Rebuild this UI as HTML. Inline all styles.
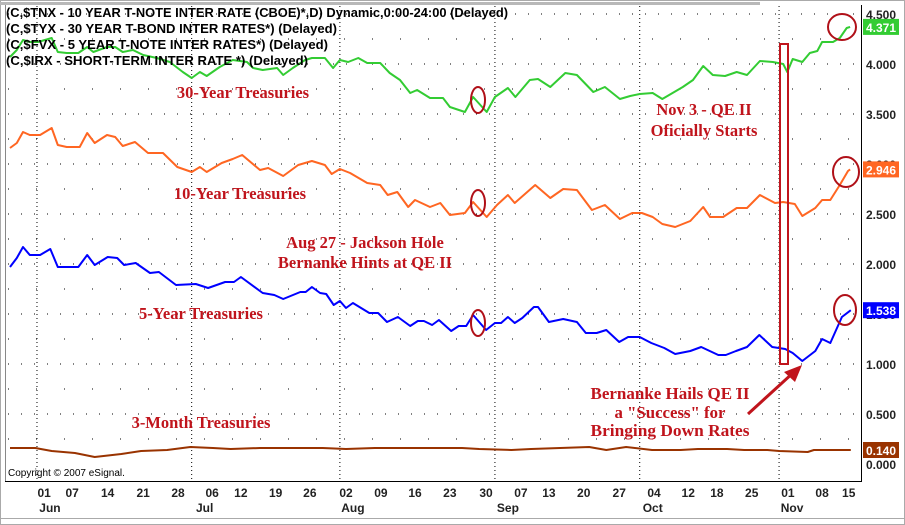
<!DOCTYPE html>
<html><head><meta charset="utf-8">
<style>
html,body{margin:0;padding:0;background:#fff;}
svg{display:block;font-family:"Liberation Sans",sans-serif;}
.ann{font-family:"Liberation Serif",serif;font-weight:bold;font-size:16.5px;fill:#c0141c;text-anchor:middle;}
.leg{font-size:12.8px;font-weight:bold;fill:#000;}
.ytk{font-size:12px;font-weight:bold;fill:#222;}
.xtk{font-size:12px;font-weight:bold;fill:#222;text-anchor:middle;}
</style></head>
<body>
<svg id="chart" width="905" height="525" viewBox="0 0 905 525">
<rect x="0" y="0" width="905" height="525" fill="#fff"/>
<rect x="0.5" y="0.5" width="904" height="524" fill="none" stroke="#aaa"/>
<rect x="0" y="2" width="760" height="3" fill="#b8b8b8"/>
<line x1="5.5" y1="5" x2="5.5" y2="481" stroke="#888"/>
<line x1="861.5" y1="5" x2="861.5" y2="481" stroke="#000"/>
<line x1="5" y1="481.5" x2="862" y2="481.5" stroke="#000"/>
<line x1="0" y1="518.5" x2="905" y2="518.5" stroke="#aaa"/>
<g id="grid"></g>
<g id="axes"></g>
<g id="series"></g>

<g>
<text class="leg" x="6" y="17" textLength="502" lengthAdjust="spacingAndGlyphs">(C,$TNX - 10 YEAR T-NOTE INTER RATE (CBOE)*,D) Dynamic,0:00-24:00 (Delayed)</text>
<text class="leg" x="6" y="33" textLength="331" lengthAdjust="spacingAndGlyphs">(C,$TYX - 30 YEAR T-BOND INTER RATES*)  (Delayed)</text>
<text class="leg" x="6" y="49" textLength="322" lengthAdjust="spacingAndGlyphs">(C,$FVX - 5 YEAR T-NOTE INTER RATES*)  (Delayed)</text>
<text class="leg" x="6" y="65" textLength="302" lengthAdjust="spacingAndGlyphs">(C,$IRX - SHORT-TERM INTER RATE *)  (Delayed)</text>
</g>

<g>
<text class="ann" x="243" y="98">30-Year Treasuries</text>
<text class="ann" x="240" y="199">10-Year Treasuries</text>
<text class="ann" x="365" y="248">Aug 27 - Jackson Hole</text>
<text class="ann" x="365" y="268">Bernanke Hints at QE II</text>
<text class="ann" x="201" y="319">5-Year Treasuries</text>
<text class="ann" x="201" y="428">3-Month Treasuries</text>
<text class="ann" x="704" y="115">Nov 3 - QE II</text>
<text class="ann" x="704" y="136">Oficially Starts</text>
<text class="ann" x="670" y="399" font-size="18" textLength="159" lengthAdjust="spacingAndGlyphs">Bernanke Hails QE II</text>
<text class="ann" x="670" y="418" font-size="18" textLength="111" lengthAdjust="spacingAndGlyphs">a "Success" for</text>
<text class="ann" x="670" y="436" font-size="18" textLength="159" lengthAdjust="spacingAndGlyphs">Bringing Down Rates</text>
<rect x="780" y="44" width="8" height="320" fill="none" stroke="#c0141c" stroke-width="2"/>
<line x1="748" y1="414" x2="794" y2="372" stroke="#c0141c" stroke-width="3"/>
<polygon points="802,365 784,372 795,382" fill="#c0141c"/>
<g fill="none" stroke="#b01018" stroke-width="2">
<ellipse cx="478" cy="100" rx="7" ry="13"/>
<ellipse cx="478" cy="203" rx="7" ry="13"/>
<ellipse cx="478" cy="323" rx="7" ry="13"/>
<ellipse cx="842" cy="27" rx="14" ry="13"/>
<ellipse cx="846" cy="172" rx="13" ry="15"/>
<ellipse cx="845" cy="310" rx="11" ry="15"/>
</g>
</g>
<text x="8" y="476" font-size="10" fill="#000">Copyright © 2007 eSignal.</text>
</svg>
<script>
const yTicks = [4.5,4.0,3.5,3.0,2.5,2.0,1.5,1.0,0.5,0.0];
const xTickDays = [5,9.1,14.3,19.5,24.6,29.6,33.8,38.9,43.9,49.2,54.3,59.3,64.4,69.7,74.8,78.9,84,89.2,94.3,99.3,103.5,108.6,113.9,118.9,122.8];
const xTickLabels = ["01","07","14","21","28","06","12","19","26","02","09","16","23","30","07","13","20","27","04","12","18","25","01","08","15"];
const monthDays = [3.95,26.6,48.3,71,92.2,112.6];
const monthLabels = ["Jun","Jul","Aug","Sep","Oct","Nov"];

const d30 = [0,1,1.9,2.9,4.1,6.1,7,8.3,10,11.3,12.2,14.2,15.4,16.5,18,19.5,21.5,23.4,25.3,26.6,27.8,28.8,30.7,32.6,34.7,35.6,37,39.1,40,41.4,43.2,44.2,46.1,47.3,48.3,49.5,51,52.3,54.2,55.6,57.1,58.6,59.6,61.5,63.4,64.4,66.6,67.8,69.8,71,72.9,74,76.1,77.3,79.1,81.3,83,85.4,87.1,89.3,90.8,92.2,94.1,95.5,98.5,100,101.5,102.9,104.7,106.4,107.9,109.8,111.7,113.2,113.8,114.6,116,117.1,118.2,118.9,120.5,121.5,122.5,123];
const v30 = [4.07,4.14,4.24,4.22,4.22,4.26,4.12,4.11,4.11,4.17,4.12,4.17,4.17,4.12,4.14,4.09,4.06,4.02,3.92,3.86,3.92,3.88,3.97,4.04,4.02,3.96,3.94,3.96,3.89,3.96,4.04,4.06,4.06,3.96,4.04,4.02,4.06,4.01,4.01,3.91,3.84,3.71,3.74,3.66,3.66,3.57,3.52,3.67,3.52,3.67,3.76,3.67,3.84,3.85,3.77,3.91,3.89,3.72,3.77,3.65,3.68,3.70,3.71,3.65,3.77,3.84,3.98,3.89,3.88,3.92,3.89,4.03,4.02,4.00,3.92,4.05,4.02,4.11,4.13,4.22,4.22,4.26,4.36,4.371];

const d10 = [0,1,1.9,2.9,4.4,6.1,7,8.3,10.2,11.3,12.4,14.2,15.4,16.5,18.3,20.2,22.4,24.5,26.6,27.8,28.8,31,32.6,34,36.6,37.8,40,42.2,44.2,46.1,47.1,48.3,49.8,52.3,54.2,55.3,56.7,58.3,59.3,61.5,63,64.4,66.6,67.8,69.8,71.3,72.9,73.9,76.9,79.1,81,83,85.2,87.1,89.3,91.1,92.5,94.1,95.5,97.4,99.6,101.5,102.5,104.4,106.4,107.9,109.8,112,113.2,114.9,116,117.9,118.9,120.1,121.5,122.7,123];
const v10 = [3.16,3.21,3.32,3.29,3.29,3.36,3.19,3.17,3.17,3.31,3.21,3.29,3.27,3.18,3.22,3.11,3.11,2.97,2.92,2.97,2.92,3.01,3.05,3.09,2.94,2.96,2.88,2.99,3.03,2.99,2.90,2.95,2.91,2.81,2.79,2.69,2.72,2.57,2.64,2.57,2.61,2.49,2.51,2.62,2.47,2.59,2.69,2.61,2.79,2.66,2.75,2.74,2.54,2.59,2.45,2.51,2.51,2.47,2.40,2.37,2.43,2.57,2.47,2.47,2.56,2.56,2.69,2.61,2.62,2.60,2.48,2.56,2.64,2.64,2.79,2.93,2.946];

const d5 = [0,1,1.9,2.9,4.4,5.9,7,10,11.3,12.4,14.3,15.7,16.7,18.4,20.5,21.8,24.3,27.2,29,31.5,32.8,33.8,37,38.7,40,42.5,43.3,44.2,45.4,46.3,47.4,48.3,49.2,50.2,52.6,53.9,55.2,56.8,58.6,59.7,60.6,61.8,62.8,64.6,65.7,66.8,67.8,69.7,71,71.9,72.9,73.9,75,76.7,77.3,78.9,81,83,84.3,85.9,87.3,89.2,90.5,92.2,93.9,95.8,97.4,99.6,101.2,103.7,104.8,106.3,107.9,109.7,111.6,113.5,114.6,116,117.9,118.9,120.1,121.8,123.1];
const v5 = [1.97,2.06,2.17,2.09,2.09,2.15,1.97,1.97,2.09,1.99,2.07,2.06,1.99,2.01,1.91,1.92,1.79,1.80,1.76,1.82,1.82,1.87,1.71,1.69,1.65,1.72,1.72,1.77,1.71,1.70,1.59,1.63,1.56,1.61,1.51,1.51,1.42,1.47,1.38,1.43,1.43,1.39,1.44,1.33,1.38,1.38,1.49,1.34,1.41,1.41,1.47,1.41,1.46,1.57,1.57,1.42,1.45,1.42,1.31,1.31,1.34,1.22,1.27,1.27,1.21,1.16,1.10,1.13,1.17,1.09,1.09,1.13,1.17,1.29,1.17,1.15,1.11,1.03,1.13,1.25,1.21,1.47,1.538];

const d3m = [0,3.7,6.1,9.5,12.4,16.3,19.2,23,26.4,29.7,32.3,36.6,45.8,49.2,53.4,66.2,68.7,73.4,76.3,84.8,87.3,90.2,94,98.2,100.7,105,107.5,110.9,112.6,116.8,117.7,119.3,123.1];
const v3m = [0.16,0.16,0.13,0.11,0.07,0.10,0.13,0.14,0.17,0.16,0.15,0.16,0.16,0.15,0.16,0.16,0.15,0.14,0.15,0.17,0.14,0.17,0.14,0.14,0.15,0.15,0.14,0.14,0.13,0.12,0.14,0.14,0.14];

const NS="http://www.w3.org/2000/svg";
function xS(d){return 10+d*6.83;}
function yS(v){return 464-v*100;}
function mk(tag,parent,attrs){const e=document.createElementNS(NS,tag);for(const k in attrs)e.setAttribute(k,attrs[k]);parent.appendChild(e);return e;}
const grid=document.getElementById('grid'),axes=document.getElementById('axes'),series=document.getElementById('series');

for(let v=0.25;v<=4.5;v+=0.25){
  const major=Math.abs(v*2-Math.round(v*2))<1e-6;
  const l=mk('line',grid,{x1:8,x2:858,y1:yS(v),y2:yS(v),stroke:'#000','stroke-width':1,'stroke-dasharray':major?'1,12':'1,27'});
  
  
}
monthDays.forEach(d=>{
  const l=mk('line',grid,{x1:xS(d),x2:xS(d),y1:6,y2:481,stroke:'#000','stroke-width':1,'stroke-dasharray':'1,3'});
  
  
});
yTicks.forEach(v=>{
  const t=mk('text',axes,{x:866,y:yS(v)+5,class:'ytk'});t.textContent=v.toFixed(3);
  
  
});
xTickDays.forEach((d,i)=>{
  const t=mk('text',axes,{x:xS(d),y:497,class:'xtk'});t.textContent=xTickLabels[i];
  
  
});
monthDays.forEach((d,i)=>{
  const t=mk('text',axes,{x:xS(d)+13,y:512,class:'xtk'});t.textContent=monthLabels[i];
  
  
});
function line(ds,vs,color,name){
  const p=mk('polyline',series,{points:ds.map((d,i)=>xS(d).toFixed(1)+','+yS(vs[i]).toFixed(1)).join(' '),fill:'none',stroke:color,'stroke-width':2,'stroke-linejoin':'round'});
  
  
}
line(d30,v30,'#33cc33','line-30-year');
line(d10,v10,'#ff6622','line-10-year');
line(d5,v5,'#0000ff','line-5-year');
line(d3m,v3m,'#993300','line-3-month');
function badge(v,color,name){
  const y=yS(v);
  const r=mk('rect',axes,{x:863,y:y-8,width:36,height:16,fill:color});
  
  
  const t=mk('text',axes,{x:881,y:y+5,'text-anchor':'middle','font-size':12,'font-weight':'bold',fill:'#fff'});t.textContent=v.toFixed(3);
  
  
}
badge(v30[v30.length-1],'#33cc33','last-value-30-year');
badge(v10[v10.length-1],'#ff6622','last-value-10-year');
badge(v5[v5.length-1],'#0000ff','last-value-5-year');
badge(v3m[v3m.length-1],'#993300','last-value-3-month');
</script>
</body></html>
